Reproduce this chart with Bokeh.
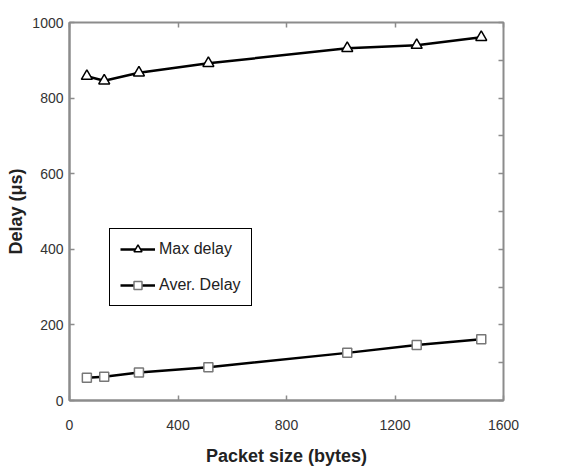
from bokeh.plotting import figure
from bokeh.models import Range1d, FixedTicker, LinearAxis, Legend, LegendItem
from bokeh.embed import file_html
from bokeh.resources import INLINE

packet_size = [64, 128, 256, 512, 1024, 1280, 1518]
max_delay = [858, 846, 867, 892, 932, 940, 961]
aver_delay = [60, 63, 74, 88, 126, 147, 162]
x_ticks = [0, 400, 800, 1200, 1600]
y_ticks = [0, 200, 400, 600, 800, 1000]
y_minor = [0, 100, 200, 300, 400, 500, 600, 700, 800, 900, 1000]

FONT = "Liberation Sans"
GREY = "#8c8c8c"

p = figure(frame_width=434, frame_height=378, output_backend="svg", toolbar_location=None,
           x_range=Range1d(0, 1600), y_range=Range1d(0, 1000),
           min_border_left=69, min_border_top=22, min_border_right=69, min_border_bottom=70)
p.outline_line_color = GREY
p.outline_line_width = 2
p.xgrid.visible = False
p.ygrid.visible = False
p.background_fill_color = "white"
p.border_fill_color = "white"

for ax in (p.xaxis[0], p.yaxis[0]):
    ax.axis_line_color = GREY
    ax.axis_line_width = 2
    ax.major_tick_in = 5
    ax.major_tick_out = 0
    ax.major_tick_line_color = GREY
    ax.major_tick_line_width = 1.5
    ax.minor_tick_line_color = None
    ax.major_label_text_font = FONT
    ax.major_label_text_font_size = "14px"
    ax.major_label_text_color = "#333333"
    ax.axis_label_text_font = FONT
    ax.axis_label_text_font_style = "bold"
    ax.axis_label_text_font_size = "18px"
    ax.axis_label_text_color = "#222222"

p.xaxis[0].ticker = FixedTicker(ticks=x_ticks)
p.yaxis[0].ticker = FixedTicker(ticks=y_ticks)
p.xaxis[0].major_label_standoff = 19
p.yaxis[0].major_label_standoff = 6
p.xaxis[0].axis_label = "Packet size (bytes)"
p.yaxis[0].axis_label = "Delay (μs)"
p.xaxis[0].axis_label_standoff = 13
p.yaxis[0].axis_label_standoff = 3

# right and top axes with inner ticks only
right = LinearAxis(ticker=FixedTicker(ticks=y_minor),
                   major_label_overrides={v: "" for v in y_minor})
top = LinearAxis(ticker=FixedTicker(ticks=x_ticks),
                 major_label_overrides={v: "" for v in x_ticks})
for ax in (right, top):
    ax.axis_line_color = None
    ax.major_tick_in = 5
    ax.major_tick_out = 0
    ax.major_tick_line_color = GREY
    ax.major_tick_line_width = 1.5
    ax.minor_tick_line_color = None
    ax.major_label_text_font_size = "1px"
    ax.major_label_standoff = 0
p.add_layout(right, "right")
p.add_layout(top, "above")

l1 = p.line(packet_size, max_delay, line_color="black", line_width=2.5)
s1 = p.scatter(packet_size, max_delay, marker="triangle", size=11,
               fill_color="white", line_color="black", line_width=1.5)
l2 = p.line(packet_size, aver_delay, line_color="black", line_width=2.5)
s2 = p.scatter(packet_size, aver_delay, marker="square", size=9,
               fill_color="white", line_color="#777777", line_width=1.5)

legend = Legend(items=[LegendItem(label="Max delay", renderers=[l1, s1]),
                       LegendItem(label="Aver. Delay", renderers=[l2, s2])],
                location=(40, 94))
legend.border_line_color = "black"
legend.border_line_alpha = 1.0
legend.border_line_width = 1.5
legend.label_text_font = FONT
legend.label_text_font_size = "16px"
legend.label_text_color = "#222222"
legend.glyph_width = 35
legend.glyph_height = 20
legend.label_height = 20
legend.label_standoff = 4
legend.spacing = 16
legend.padding = 10
legend.margin = 0
p.add_layout(legend, "center")

open("out.html", "w").write(file_html(p, INLINE))
